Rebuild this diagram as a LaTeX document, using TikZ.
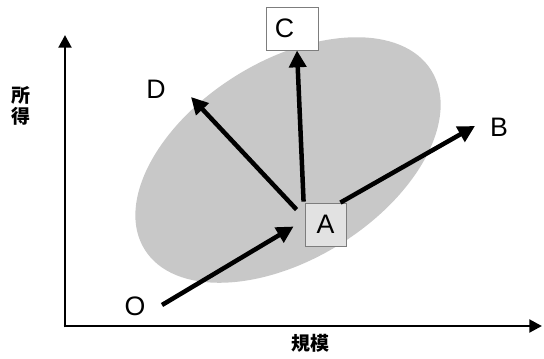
\documentclass[tikz,border=0pt]{standalone}
\usepackage{fontspec}
\setmainfont{Liberation Sans}
\newfontfamily\jpfont{Noto Sans CJK JP}
\usetikzlibrary{arrows.meta, positioning}
\definecolor{blobgray}{RGB}{200,200,200}
\definecolor{boxgray}{RGB}{226,226,226}
\definecolor{edgegray}{RGB}{125,125,125}
\tikzset{
  axisline/.style={line width=2.1pt, -{Triangle[length=9pt, width=9pt]}},
  vecline/.style={line width=3.2pt, -{Triangle[length=12pt, width=12pt]}},
  letter/.style={font=\fontsize{19}{22}\selectfont, inner sep=0pt},
  jplabel/.style={font=\jpfont\bfseries\fontsize{13.5}{15}\selectfont, inner sep=0pt, align=center},
  pointbox/.style={draw=edgegray, line width=0.6pt, minimum height=1.075cm,
                   font=\fontsize{19}{22}\selectfont},
}
\begin{document}
\begin{tikzpicture}[x=0.025cm, y=-0.025cm]
\useasboundingbox (0,0) rectangle (544,358);

% ── Distribution (grey ellipse) ─────────────────────────────────────────────
\fill[blobgray, rotate around={32:(288,160)}] (288,160) ellipse [x radius=169, y radius=99];

% ── Axes ─────────────────────────────────────────────────────────────────────
\coordinate (orig) at (65,326);
\coordinate (ytip) at (65,35);
\coordinate (xtip) at (542,326);
\draw[axisline] ([yshift=-1.05pt]orig) -- (ytip);
\draw[axisline] ([xshift=-1.05pt]orig) -- (xtip);
\node[jplabel] (ylab) at (21,106) {所\\得};
\node[jplabel] (xlab) at (310,343) {規模};

% ── Points ───────────────────────────────────────────────────────────────────
\node[pointbox, fill=boxgray, minimum width=1.025cm] (A) at (325.5,224.5) {A};
\node[pointbox, fill=white, text width=0.88cm, align=left, inner xsep=0.2cm]
     (C) at (292.5,28.5) {C};
\node[letter] (O) at (135,306) {O};
\node[letter] (B) at (499,127) {B};
\node[letter] (D) at (156,89) {D};

% Arrow tips
\coordinate (tipD) at (191,97);
\coordinate (tipB) at (475,126);

% ── Vectors ──────────────────────────────────────────────────────────────────
\draw[vecline] ([shift={(27,-1)}]O.center) -- ([shift={(-11,2)}]A.west);
\draw[vecline] ([shift={(-1,-1)}]A.north west) -- ([xshift=4.5*0.025cm]C.south);
\draw[vecline] ([shift={(-8,7)}]A.north west) -- (tipD);
\draw[vecline] ([shift={(-6,0)}]A.north east) -- (tipB);

\end{tikzpicture}
\end{document}
